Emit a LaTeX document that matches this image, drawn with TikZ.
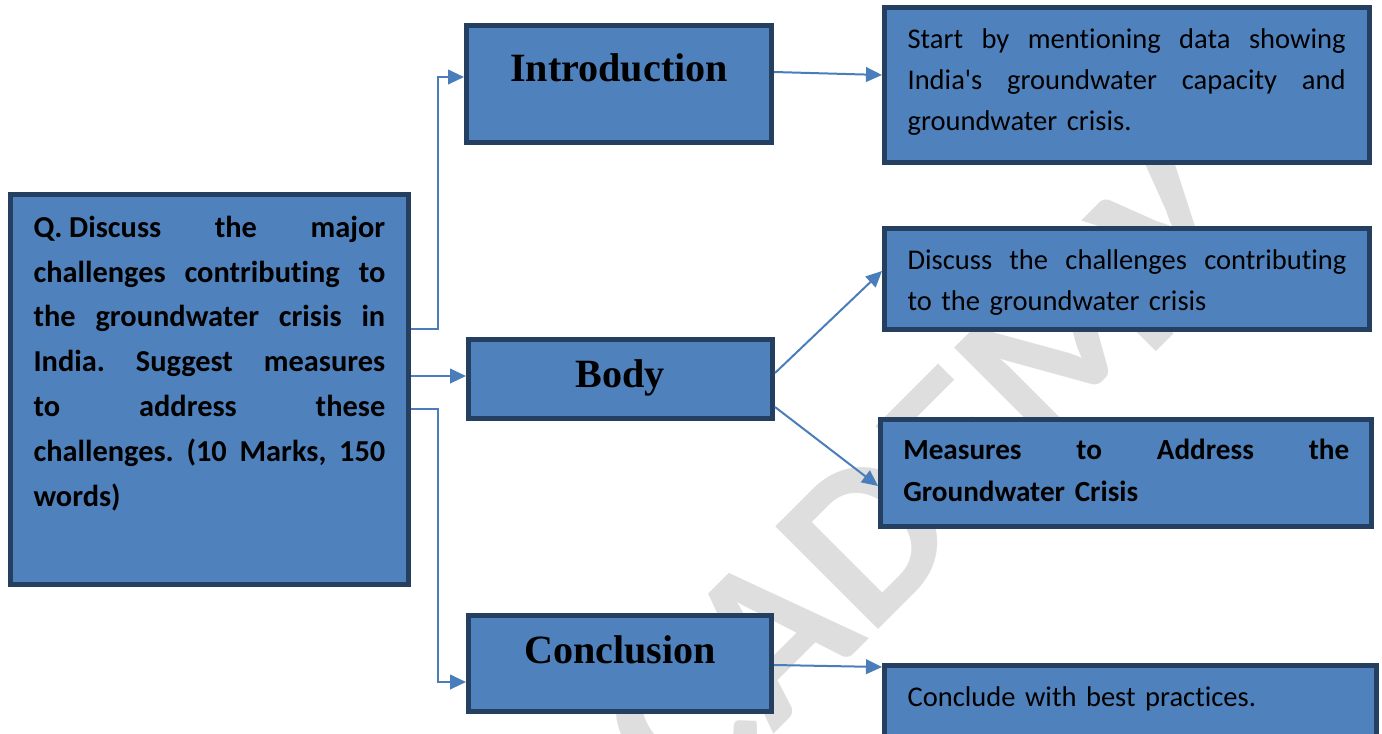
\documentclass[tikz,border=0pt]{standalone}
\usepackage{fontspec}
\setmainfont{Carlito}[Ligatures={TeX,NoCommon}]
\newfontfamily\headfont{Liberation Serif}
\usetikzlibrary{arrows.meta,fit}
\definecolor{boxfill}{HTML}{4F81BD}
\definecolor{boxedge}{HTML}{243F60}
\definecolor{linkblue}{HTML}{4A7EBB}
\definecolor{markgray}{HTML}{DEDEDE}
% one justified line of fixed width: every space stretches equally
\newcommand{\jline}[2]{\makebox[#1][s]{\frenchspacing
  \spaceskip=\fontdimen2\font plus 1fil minus 0.08em\relax
  \xspaceskip=\spaceskip #2}}

\begin{document}
\begin{tikzpicture}[x=0.75pt,y=-0.75pt,
  box/.style={rectangle,draw=boxedge,fill=boxfill,line width=3.75pt,inner sep=0pt},
  head/.style={font=\headfont\bfseries\fontsize{30.1}{34}\selectfont,anchor=base,inner sep=0pt},
  txt/.style={font=\fontsize{21.4}{30.75}\selectfont,anchor=base west,inner sep=0pt,align=left},
  qtxt/.style={font=\bfseries\fontsize{22.8}{33.6}\selectfont,anchor=base west,inner sep=0pt,align=left},
  mtxt/.style={font=\bfseries\fontsize{21.9}{31.5}\selectfont,anchor=base west,inner sep=0pt,align=left},
  link/.style={draw=linkblue,line width=1.5pt,-{Triangle[length=12pt,width=11pt]}},
  ]
\clip (0,0) rectangle (1382,733);
\fill[white] (0,0) rectangle (1382,733);

% watermark
\node[rotate=45,text=markgray,inner sep=0pt,
  font=\bfseries\fontsize{168}{168}\selectfont] (wm) at (880,525) {ACADEMY};

% boxes
\node[box,fit={(10.5,194.5) (408.5,584.5)}] (q) {};
\node[box,fit={(466.5,25.5) (771.5,142.5)}] (intro) {};
\node[box,fit={(468.5,339.5) (772.5,418.5)}] (body) {};
\node[box,fit={(468.5,615.5) (771.5,711.5)}] (concl) {};
\node[box,fit={(884.5,7.5) (1369.5,162.5)}] (start) {};
\node[box,fit={(884.5,228.5) (1369.5,329.5)}] (disc) {};
\node[box,fit={(880.5,419.5) (1371.5,526.5)}] (meas) {};
\node[box,fit={(884.5,665.5) (1376.5,757.5)}] (end) {};

% texts
\node[qtxt,text width=263.8pt] (qt) at (33.3,237.3) {%
  \jline{263.8pt}{\mbox{Q.\kern0.22em Discuss} the major}\\
  \jline{263.8pt}{challenges contributing to}\\
  \jline{263.8pt}{the groundwater crisis in}\\
  \jline{263.8pt}{India. Suggest measures}\\
  \jline{263.8pt}{to address these}\\
  \jline{263.8pt}{challenges. (10 Marks, 150}\\
  words)};
\node[head] (introt) at (619,81) {Introduction};
\node[head] (bodyt) at (620,387) {Body};
\node[head] (conclt) at (620,663) {Conclusion};
\node[txt,text width=328.5pt] (startt) at (907.3,48.3) {%
  \jline{328.5pt}{Start by mentioning data showing}\\
  \jline{328.5pt}{India\textquotesingle s groundwater capacity and}\\
  groundwater crisis.};
\node[txt,text width=329.2pt] (disct) at (907.3,269.5) {%
  \jline{329.2pt}{Discuss the challenges contributing}\\
  to the groundwater crisis};
\node[mtxt,text width=334.5pt] (meast) at (903,459.5) {%
  \jline{334.5pt}{Measures to Address the}\\
  Groundwater Crisis};
\node[txt,text width=340pt] (endt) at (907.3,706) {Conclude with best practices.};

% levels and bends of the connectors
\coordinate (ja) at (438,329);
\coordinate (jat) at (438,77);
\coordinate (jb) at (438,376);
\coordinate (jc) at (438,409);
\coordinate (jcb) at (438,682);
\coordinate (ia) at (0,72);
\coordinate (sa) at (0,75);
\coordinate (ba) at (0,373);
\coordinate (da) at (0,271);
\coordinate (bb) at (0,407);
\coordinate (ma) at (0,486);
\coordinate (ca) at (0,665);
\coordinate (ea) at (0,667);

% connectors
\draw[link] (q.east |- ja) -| (jat) -- (intro.west |- jat);
\draw[link] (q.east |- jb) -- (body.west |- jb);
\draw[link] (q.east |- jc) -| (jcb) -- (concl.west |- jcb);
\draw[link] (intro.east |- ia) -- (start.west |- sa);
\draw[link] (body.east |- ba) -- (disc.west |- da);
\draw[link] (body.east |- bb) -- (meas.west |- ma);
\draw[link] (concl.east |- ca) -- (end.west |- ea);
\end{tikzpicture}
\end{document}
